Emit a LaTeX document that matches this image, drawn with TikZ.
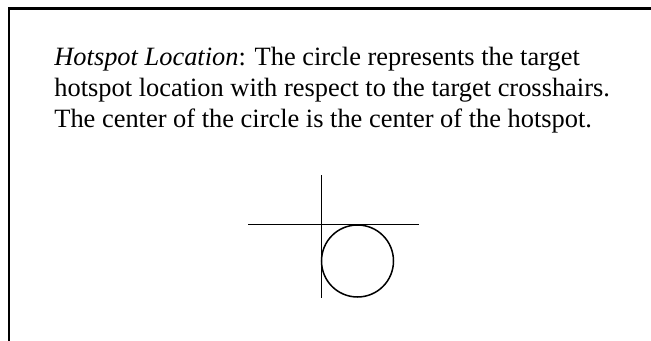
\documentclass[tikz,border=0pt]{standalone}
\usepackage{fontspec}
\setmainfont{Liberation Serif}
\begin{document}
\begin{tikzpicture}[x=0.53pt,y=-0.53pt,line cap=rect]
 \useasboundingbox (0,0) rectangle (651,341);
 % frame, cut off at the right and bottom
 \draw[line width=1.1pt] (9,341) -- (9,8.5) -- (651,8.5);
 % caption
 \node[anchor=base west,inner sep=0pt,font=\fontsize{14}{16}\selectfont] (capa) at (54,66) {\textit{Hotspot Location}: The circle represents the target};
 \node[anchor=base west,inner sep=0pt,font=\fontsize{14}{16}\selectfont] (capb) at (54,97) {hotspot location with respect to the target crosshairs.};
 \node[anchor=base west,inner sep=0pt,font=\fontsize{14}{16}\selectfont] (capc) at (54,128) {The center of the circle is the center of the hotspot.};
 % crosshairs and hotspot
 \draw[line width=0.8pt] (321.7,176) -- (321.7,297);
 \draw[line width=0.8pt] (249,224.7) -- (418,224.7);
 \draw[line width=0.8pt] (357.5,261) circle[radius=36];
\end{tikzpicture}
\end{document}
